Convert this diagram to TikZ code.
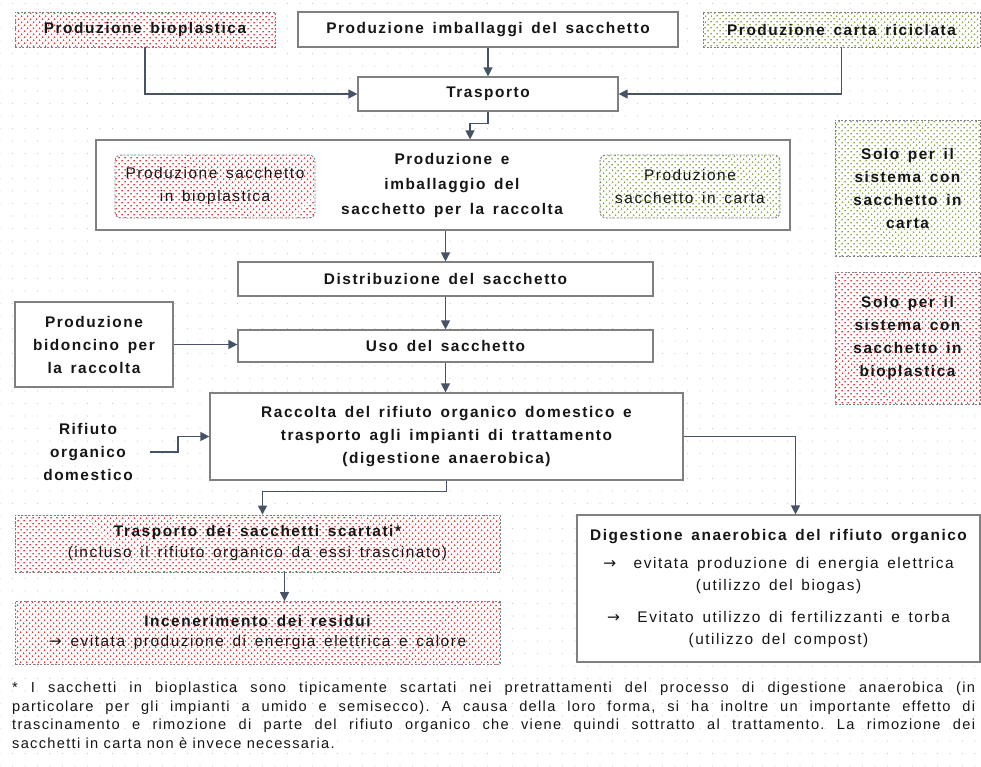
\documentclass[tikz,border=0pt]{standalone}
\usepackage{fontspec}
\setmainfont{Liberation Sans}[LetterSpace=10, WordSpace=1.5]
\newfontfamily\notefont{Liberation Sans}[LetterSpace=9]
\newfontfamily\arrowfont{DejaVu Sans}
\usetikzlibrary{arrows.meta,patterns.meta}

\definecolor{edge}{HTML}{808080}
\definecolor{link}{HTML}{465265}
\definecolor{ink}{HTML}{161616}
\definecolor{bioRed}{HTML}{DC3A3A}
\definecolor{paperGreen}{HTML}{88A84A}
\definecolor{gridDot}{HTML}{D0D0D0}

\newcommand{\boxsize}{\fontsize{15.4}{23}\selectfont}
\newcommand{\goesto}{{\arrowfont\mdseries →}}

\tikzset{
  box/.style={draw=edge, line width=1.2pt, fill=white, text=ink, inner sep=0pt,
    align=center, font=\bfseries\boxsize},
  dotbox/.style={draw=edge, line width=0.9pt, dash pattern=on 2pt off 1.6pt,
    preaction={fill=white}, text=ink, inner sep=0pt, align=center,
    font=\bfseries\boxsize},
  biobox/.style={dotbox, pattern={Dots[radius=0.95pt, distance=4pt, angle=45]},
    pattern color=bioRed},
  paperbox/.style={dotbox, pattern={Dots[radius=0.95pt, distance=4pt, angle=45]},
    pattern color=paperGreen},
  label/.style={text=ink, inner sep=0pt, align=center, font=\bfseries\boxsize},
  link/.style={draw=link, line width=1.3pt, -{Triangle[length=9pt, width=9pt]}},
}

\begin{document}
\begin{tikzpicture}[x=1pt, y=-1pt]
  % page and the faint dot grid behind everything
  \useasboundingbox (0,0) rectangle (981,766);
  \fill[white] (0,0) rectangle (981,766);
  \fill[pattern={Dots[radius=0.6pt, distance=12.5pt]}, pattern color=gridDot]
    (0,0) rectangle (981,766);

  % top row of inputs
  \node[biobox, minimum width=260pt, minimum height=35pt] (bio) at (145,29.5)
    {Produzione bioplastica};
  \node[box, minimum width=380pt, minimum height=35pt] (imb) at (488,29.5)
    {Produzione imballaggi del sacchetto};
  \node[paperbox, minimum width=277pt, minimum height=35pt] (carta) at (841.5,29.5)
    {Produzione carta riciclata};

  \node[box, minimum width=260pt, minimum height=34pt] (trasp) at (488,94)
    {Trasporto};

  % bag production block
  \node[box, minimum width=694pt, minimum height=90pt] (big) at (443,185) {};
  \node[label, font=\bfseries\fontsize{15.4}{25}\selectfont] (bigtxt) at (452,186)
    {Produzione e\\imballaggio del\\sacchetto per la raccolta};
  \node[biobox, rounded corners=6pt, minimum width=200pt, minimum height=63pt,
    font=\mdseries\boxsize] (sbio) at (215,186.5)
    {Produzione sacchetto\\in bioplastica};
  \node[paperbox, rounded corners=6pt, minimum width=180pt, minimum height=63pt,
    font=\mdseries\boxsize] (scarta) at (690,186.5)
    {Produzione\\sacchetto in carta};

  % legend on the right
  \node[paperbox, minimum width=145pt, minimum height=136pt] (legpaper) at (907.5,188)
    {Solo per il\\sistema con\\sacchetto in\\carta};
  \node[biobox, minimum width=145pt, minimum height=132pt] (legbio) at (907.5,338)
    {Solo per il\\sistema con\\sacchetto in\\bioplastica};

  % use phase
  \node[box, minimum width=415pt, minimum height=34pt] (distr) at (445.5,279)
    {Distribuzione del sacchetto};
  \node[box, minimum width=415pt, minimum height=32pt] (uso) at (445.5,346)
    {Uso del sacchetto};
  \node[box, minimum width=158pt, minimum height=85pt] (bidon) at (94,344.5)
    {Produzione\\bidoncino per\\la raccolta};

  \node[box, minimum width=473pt, minimum height=87pt] (racc) at (446.5,436.5)
    {Raccolta del rifiuto organico domestico e\\trasporto agli impianti di trattamento\\(digestione anaerobica)};
  \node[label] (rif) at (88,452) {Rifiuto\\organico\\domestico};

  % end of life
  \node[biobox, minimum width=485pt, minimum height=57pt] (tsc) at (257.5,543.5)
    {Trasporto dei sacchetti scartati*\\[-2pt]{\mdseries (incluso il rifiuto organico da essi trascinato)}};
  \node[biobox, minimum width=485pt, minimum height=63pt] (inc) at (257.5,633)
    {Incenerimento dei residui\\[-3pt]{\mdseries \goesto{} evitata produzione di energia elettrica e calore}};
  \node[box, minimum width=403pt, minimum height=147pt] (dig) at (778.5,588.5)
    {Digestione anaerobica del rifiuto organico\\[5pt]
     {\mdseries \goesto{}\ \ evitata produzione di energia elettrica}\\[-1pt]
     {\mdseries (utilizzo del biogas)}\\[9pt]
     {\mdseries \goesto{}\ \ Evitato utilizzo di fertilizzanti e torba}\\[-1pt]
     {\mdseries (utilizzo del compost)}};

  % connectors
  \draw[link] (bio.south) |- (trasp.west);
  \draw[link] (imb.south) -- (trasp.north);
  \draw[link] (carta.south) |- (trasp.east);
  \draw[link] (trasp.south) -- ++(0,12) -| ([xshift=-18pt]trasp.south |- big.north);
  \draw[link] (big.south -| distr.north) -- (distr.north);
  \draw[link] (distr.south) -- (uso.north);
  \draw[link] (bidon.east) -- (bidon.east -| uso.west);
  \draw[link] (uso.south) -- (uso.south |- racc.north);
  \draw[link] ([xshift=17pt]rif.east) -- ++(28,0) |- (racc.west);
  \draw[link] (racc.east) -| ([xshift=17pt]dig.north);
  \draw[link] (racc.south) -- ++(0,11) -| ([xshift=5pt]tsc.north);
  \draw[link] ([xshift=27pt]tsc.south) -- ([xshift=27pt]inc.north);

  % footnote
  \node[anchor=north west, inner sep=0pt, text=ink] (note) at (12,682)
    {\parbox{963pt}{\frenchspacing\notefont\fontsize{14.6}{18.6}\selectfont
     * I sacchetti in bioplastica sono tipicamente scartati nei pretrattamenti del processo di digestione anaerobica (in\linebreak
     particolare per gli impianti a umido e semisecco). A causa della loro forma, si ha inoltre un importante effetto di\linebreak
     trascinamento e rimozione di parte del rifiuto organico che viene quindi sottratto al trattamento. La rimozione dei\linebreak
     sacchetti in carta non è invece necessaria.}};
\end{tikzpicture}
\end{document}
